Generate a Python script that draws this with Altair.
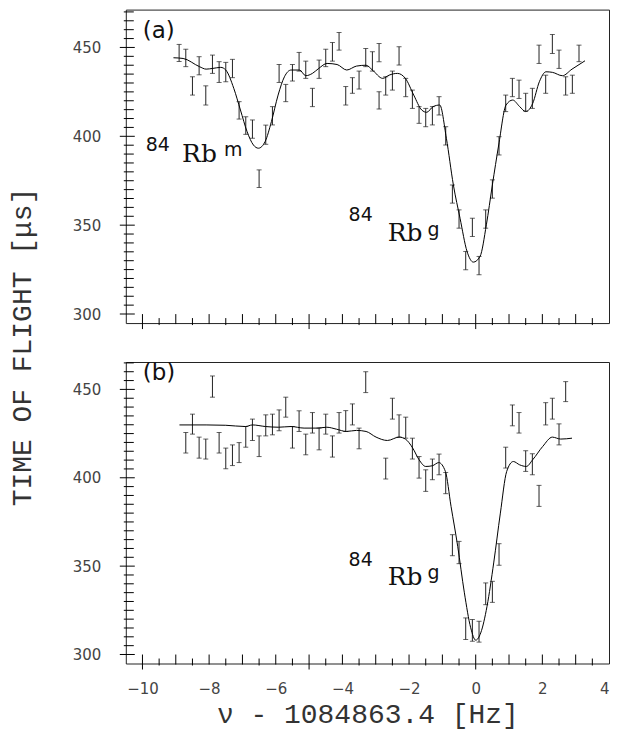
import altair as alt
import pandas as pd

# ---------------- panel (a): measured points ----------------
a_x = [-8.9, -8.7, -8.5, -8.3, -8.1, -7.9, -7.7, -7.5, -7.3, -7.1, -6.9, -6.7, -6.5, -6.3, -6.1,
       -5.9, -5.7, -5.5, -5.3, -5.1, -4.9, -4.7, -4.5, -4.3, -4.1, -3.9, -3.7, -3.5, -3.3, -3.1,
       -2.9, -2.9, -2.7, -2.5, -2.3, -2.1, -1.9, -1.7, -1.5, -1.3, -1.1, -0.9, -0.7, -0.5, -0.3,
       -0.1, 0.1, 0.3, 0.5, 0.7, 0.9, 1.1, 1.3, 1.5, 1.7, 1.9, 2.1, 2.3, 2.5, 2.7, 2.9, 3.1]
a_hi = [451.7, 449.0, 433.5, 444.8, 428.4, 445.7, 442.0, 441.6, 443.3, 419.5, 411.0, 409.2, 381.1, 406.3, 416.7,
        440.4, 429.2, 440.4, 447.2, 442.3, 427.0, 442.9, 449.0, 452.8, 458.4, 428.0, 433.0, 436.7, 449.4, 447.6,
        452.2, 425.1, 433.5, 436.7, 450.4, 432.6, 426.0, 416.7, 415.7, 416.7, 422.3, 405.4, 372.6, 358.6, 335.2,
        353.9, 332.4, 358.6, 375.5, 399.8, 423.2, 432.6, 431.6, 424.2, 427.0, 451.3, 434.4, 457.3, 448.5, 433.5, 434.4, 451.3]
a_lo = [442.1, 439.2, 423.2, 434.6, 417.6, 435.4, 430.3, 430.7, 433.0, 409.7, 401.1, 398.9, 371.2, 395.5, 406.4,
        430.3, 419.5, 431.1, 436.7, 432.6, 416.7, 432.6, 439.2, 442.3, 448.5, 417.6, 424.2, 426.6, 439.2, 436.7,
        442.0, 415.3, 423.2, 426.0, 440.1, 422.3, 415.7, 407.3, 405.4, 406.4, 412.0, 395.1, 362.4, 348.3, 324.9,
        343.6, 322.1, 348.3, 365.2, 389.5, 413.9, 422.3, 421.3, 414.2, 415.7, 441.0, 424.2, 446.6, 438.2, 423.2, 424.2, 442.0]

# panel (a): fitted curve
a_fit_x = [-9.07, -8.78, -8.29, -8.09, -7.89, -7.65, -7.5, -7.26, -7.06, -6.86, -6.67, -6.52, -6.32, -6.13,
           -5.93, -5.74, -5.54, -5.29, -5.10, -4.90, -4.71, -4.46, -4.16, -3.87, -3.58, -3.29, -3.10, -2.79,
           -2.60, -2.35, -2.11, -1.86, -1.62, -1.47, -1.28, -1.08, -0.88, -0.67, -0.47, -0.26, -0.07, 0.13,
           0.32, 0.50, 0.69, 0.91, 1.11, 1.32, 1.50, 1.71, 1.91, 2.11, 2.30, 2.60, 2.89, 3.28]
a_fit_y = [444.2, 443.8, 439.2, 437.8, 438.2, 438.8, 437.3, 427.0, 414.8, 402.6, 395.1, 393.3, 397.0, 408.3,
           423.2, 433.5, 437.3, 437.3, 434.1, 435.4, 438.2, 441.0, 440.4, 437.3, 439.5, 440.0, 437.3, 432.6,
           434.4, 435.4, 432.6, 423.2, 414.8, 413.5, 416.7, 417.6, 398.9, 372.6, 353.9, 335.2, 329.2, 332.4,
           350.2, 372.6, 395.1, 417.6, 420.4, 416.7, 413.9, 418.5, 430.7, 436.3, 436.0, 434.1, 437.8, 442.5]

# ---------------- panel (b): measured points ----------------
b_x = [-8.7, -8.5, -8.3, -8.1, -7.9, -7.7, -7.5, -7.3, -7.1, -6.9, -6.7, -6.5, -6.3, -6.1, -5.9,
       -5.7, -5.5, -5.3, -5.1, -4.9, -4.7, -4.5, -4.3, -4.1, -3.9, -3.7, -3.5, -3.3, -2.7, -2.5,
       -2.3, -2.1, -1.9, -1.7, -1.5, -1.3, -1.1, -0.9, -0.7, -0.5, -0.3, -0.1, 0.1, 0.3, 0.5,
       0.7, 0.9, 1.1, 1.3, 1.5, 1.7, 1.9, 2.1, 2.3, 2.5, 2.7]
b_hi = [425.6, 436.0, 423.0, 421.9, 457.6, 425.6, 416.8, 418.6, 419.9, 429.0, 433.2, 423.7, 435.6, 436.0, 438.4,
        445.6, 429.0, 437.9, 424.7, 436.9, 428.1, 436.0, 423.7, 436.9, 438.0, 441.8, 428.1, 460.0, 411.1, 445.0,
        435.6, 434.3, 422.4, 412.0, 404.5, 410.6, 413.4, 403.0, 367.8, 364.0, 320.7, 319.8, 318.8, 340.5, 341.4,
        362.7, 417.3, 441.2, 436.9, 415.3, 413.6, 395.7, 442.5, 445.0, 430.5, 454.4]
b_lo = [414.0, 424.7, 411.1, 410.6, 445.6, 414.0, 405.1, 406.9, 408.6, 417.3, 421.1, 412.0, 423.7, 424.3, 426.6,
        434.3, 416.8, 426.2, 413.0, 425.3, 415.8, 424.7, 411.7, 425.3, 426.2, 429.9, 416.4, 448.2, 399.3, 433.2,
        423.0, 422.4, 410.6, 399.8, 392.3, 398.9, 401.7, 391.0, 355.9, 351.4, 308.5, 307.5, 307.0, 328.2, 329.5,
        350.5, 405.5, 429.4, 425.3, 403.6, 401.7, 383.8, 429.9, 433.2, 418.6, 443.1]

# panel (b): fitted curve
b_fit_x = [-8.89, -8.09, -7.5, -6.91, -6.7, -6.31, -5.92, -5.54, -5.15, -4.76, -4.47, -4.18, -3.88, -3.58,
           -3.29, -2.99, -2.65, -2.30, -2.11, -1.89, -1.70, -1.50, -1.30, -1.11, -0.91, -0.74, -0.54, -0.34,
           -0.15, 0.0, 0.15, 0.34, 0.54, 0.74, 0.93, 1.13, 1.32, 1.52, 1.71, 2.01, 2.30, 2.55, 2.89]
b_fit_y = [429.9, 429.9, 429.7, 429.0, 429.9, 429.0, 428.6, 429.0, 428.1, 428.1, 428.6, 427.5, 426.2, 426.8,
           426.2, 423.0, 421.1, 423.0, 421.9, 416.8, 410.2, 406.4, 406.8, 408.6, 403.6, 383.8, 361.2, 334.9,
           315.1, 308.1, 312.2, 327.3, 351.8, 380.0, 403.6, 409.2, 407.3, 406.4, 410.2, 417.7, 423.0, 421.9, 422.4]

# ---------------- labels / ticks ----------------
x_tick_labels = [-10, -8, -6, -4, -2, 0, 2, 4]
y_tick_labels = [300, 350, 400, 450]
x_title = "ν - 1084863.4 [Hz]"
y_title = "TIME OF FLIGHT [μs]"

# annotations (data coordinates)
a_big = {"x": [-8.81, -2.64], "y": [385.4, 341.0], "t": ["Rb", "Rb"]}
a_sup = {"x": [-9.90, -7.55, -3.815, -1.45], "y": [394.9, 392.1, 355.6, 347.2], "t": ["84", "m", "84", "g"]}
a_tag = {"x": [-9.99], "y": [459.0], "t": ["(a)"]}
b_big = {"x": [-2.64], "y": [339.5], "t": ["Rb"]}
b_sup = {"x": [-3.815, -1.45], "y": [353.7, 346.3], "t": ["84", "g"]}
b_tag = {"x": [-9.99], "y": [459.3], "t": ["(b)"]}

X_DOMAIN = [-10.5, 4.0]
A_DOMAIN = [294.9, 471.3]
B_DOMAIN = [294.9, 465.5]
W = 484
HA = 314
HB = 302

x_tick_pos = [k * 0.5 for k in range(-20, 8)]
x_major = [v for v in x_tick_pos if v % 5 == 0]
x_int = [v for v in x_tick_pos if v % 1 == 0 and v % 5 != 0]
x_half = [v for v in x_tick_pos if v % 1 != 0]

LINE = "#222222"


def panel(px, plo, phi, fx, fy, ydom, H, big, sup, tag, show_x):
    xs = alt.Scale(domain=X_DOMAIN, nice=False, zero=False)
    ys = alt.Scale(domain=ydom, nice=False, zero=False)
    if show_x:
        xax = alt.Axis(values=x_tick_labels, title=x_title, ticks=False, tickSize=0, domain=False,
                       grid=False, labelPadding=18, labelFlush=True, titlePadding=4)
    else:
        xax = None
    yax = alt.Axis(values=y_tick_labels, title=None, ticks=False, tickSize=0, domain=False,
                   grid=False, labelPadding=25)

    def X(f):
        return alt.X(f, type="quantitative", scale=xs, axis=xax)

    def Y(f):
        return alt.Y(f, type="quantitative", scale=ys, axis=yax)

    pts = pd.DataFrame({"x": px, "lo": plo, "hi": phi})
    fit = pd.DataFrame({"x": fx, "y": fy})
    y_ticks = list(range(300, int(ydom[1]) + 1, 5))
    y_major = pd.DataFrame({"y": [v for v in y_ticks if v % 50 == 0]})
    y_minor = pd.DataFrame({"y": [v for v in y_ticks if v % 50 != 0]})

    base_pts = alt.Chart(pts)
    bars = base_pts.mark_rule(color=LINE, strokeWidth=1).encode(x=X("x"), y=Y("lo"), y2=alt.Y2("hi"))
    cap_lo = base_pts.mark_tick(orient="horizontal", size=5, thickness=1, color=LINE).encode(x=X("x"), y=Y("lo"))
    cap_hi = base_pts.mark_tick(orient="horizontal", size=5, thickness=1, color=LINE).encode(x=X("x"), y=Y("hi"))
    curve = alt.Chart(fit).mark_line(color="black", strokeWidth=1, interpolate="monotone").encode(x=X("x"), y=Y("y"))

    xt_major = alt.Chart(pd.DataFrame({"x": x_major})).mark_rule(color="black", strokeWidth=1).encode(
        x=X("x"), y=alt.value(H - 9), y2=alt.value(H + 6))
    xt_int = alt.Chart(pd.DataFrame({"x": x_int})).mark_rule(color="black", strokeWidth=1).encode(
        x=X("x"), y=alt.value(H - 9), y2=alt.value(H + 1))
    xt_half = alt.Chart(pd.DataFrame({"x": x_half})).mark_rule(color="black", strokeWidth=1).encode(
        x=X("x"), y=alt.value(H - 5), y2=alt.value(H + 2))
    yt_major = alt.Chart(y_major).mark_rule(color="black", strokeWidth=1).encode(
        x=alt.value(-6), x2=alt.value(9), y=Y("y"))
    yt_minor = alt.Chart(y_minor).mark_rule(color="black", strokeWidth=1).encode(
        x=alt.value(-2), x2=alt.value(8), y=Y("y"))

    t_big = alt.Chart(pd.DataFrame(big)).mark_text(
        align="left", baseline="alphabetic", font="DejaVu Serif", fontSize=25, color="#111"
    ).encode(x=X("x"), y=Y("y"), text="t:N")
    t_sup = alt.Chart(pd.DataFrame(sup)).mark_text(
        align="left", baseline="middle", font="DejaVu Sans", fontSize=19, color="#111"
    ).encode(x=X("x"), y=Y("y"), text="t:N")
    t_tag = alt.Chart(pd.DataFrame(tag)).mark_text(
        align="left", baseline="middle", font="DejaVu Sans", fontSize=23, color="#111"
    ).encode(x=X("x"), y=Y("y"), text="t:N")

    return alt.layer(bars, cap_lo, cap_hi, curve, xt_major, xt_int, xt_half, yt_major, yt_minor,
                     t_big, t_sup, t_tag).properties(width=W, height=H)


pa = panel(a_x, a_lo, a_hi, a_fit_x, a_fit_y, A_DOMAIN, HA, a_big, a_sup, a_tag, False)
pb = panel(b_x, b_lo, b_hi, b_fit_x, b_fit_y, B_DOMAIN, HB, b_big, b_sup, b_tag, True)

chart = alt.vconcat(pa, pb, spacing=31).properties(
    title=alt.TitleParams(text=y_title, orient="left", anchor="middle", font="Liberation Mono",
                          fontSize=28, fontWeight="normal", color="#333", offset=35, dx=22),
    padding={"left": 0, "top": 0, "right": 0, "bottom": 0},
    background="white",
).configure_view(stroke="#222", strokeWidth=1).configure_axis(
    labelFont="DejaVu Sans", labelFontSize=15, labelColor="#444",
    titleFont="Liberation Mono", titleFontSize=28, titleFontWeight="normal", titleColor="#333",
)

chart.save("out.html", embed_options={"renderer": "svg", "actions": False})
